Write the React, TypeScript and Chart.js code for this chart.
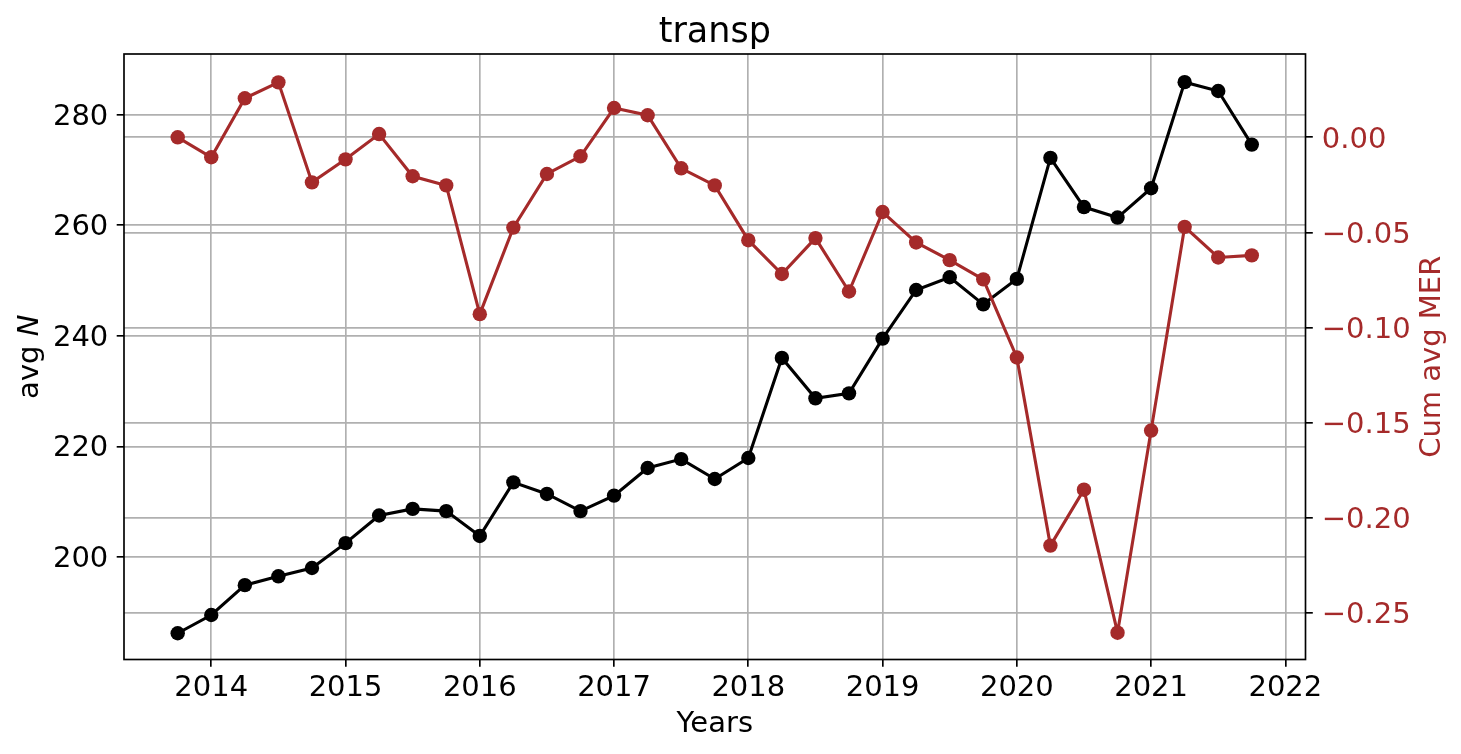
import { useEffect, useRef } from 'react';
import { Chart, registerables } from 'chart.js';

Chart.register(...registerables);

// ---- data ----
const YEARS = [
  2013.75, 2014.0, 2014.25, 2014.5, 2014.75, 2015.0, 2015.25, 2015.5, 2015.75,
  2016.0, 2016.25, 2016.5, 2016.75, 2017.0, 2017.25, 2017.5, 2017.75,
  2018.0, 2018.25, 2018.5, 2018.75, 2019.0, 2019.25, 2019.5, 2019.75,
  2020.0, 2020.25, 2020.5, 2020.75, 2021.0, 2021.25, 2021.5, 2021.75,
];
const AVG_N = [
  186.2, 189.5, 194.9, 196.5, 198.0, 202.5, 207.5, 208.7, 208.3,
  203.8, 213.5, 211.4, 208.3, 211.1, 216.1, 217.7, 214.1,
  217.9, 236.0, 228.7, 229.6, 239.5, 248.3, 250.6, 245.7,
  250.3, 272.2, 263.3, 261.4, 266.7, 285.9, 284.3, 274.6,
];
const CUM_MER = [
  0.0, -0.0105, 0.0205, 0.0289, -0.0237, -0.0116, 0.0017, -0.0205, -0.0253,
  -0.093, -0.0475, -0.0193, -0.01, 0.0154, 0.0116, -0.0163, -0.0253,
  -0.0541, -0.0719, -0.053, -0.0811, -0.0393, -0.0553, -0.0646, -0.0747,
  -0.1158, -0.2147, -0.1853, -0.2605, -0.1542, -0.0471, -0.0632, -0.0621,
];
const X_TICKS = [2014, 2015, 2016, 2017, 2018, 2019, 2020, 2021, 2022];
const N_TICKS = [200, 220, 240, 260, 280];
const MER_TICKS = [0, -0.05, -0.1, -0.15, -0.2, -0.25];

const TITLE = 'transp';
const X_LABEL = 'Years';
const Y_LABEL_MAIN = 'avg ';
const Y_LABEL_ITALIC = 'N';
const Y2_LABEL = 'Cum avg MER';

const BROWN = '#a52a2a';
const FONT = 'DejaVu Sans';
const GRID = '#b0b0b0';

export default function App() {
  const ref = useRef<HTMLCanvasElement>(null);

  useEffect(() => {
    const canvas = ref.current;
    if (!canvas) return;

    const framePlugin = {
      id: 'frame',
      afterDatasetsDraw(chart: any) {
        const { ctx, chartArea: a } = chart;
        ctx.save();
        ctx.strokeStyle = '#000';
        ctx.lineWidth = 1.67;
        ctx.strokeRect(a.left, a.top, a.right - a.left, a.bottom - a.top);
        ctx.restore();
      },
    };

    const yTitlesPlugin = {
      id: 'yTitles',
      afterDraw(chart: any) {
        const { ctx, chartArea: a } = chart;
        const cy = (a.top + a.bottom) / 2;
        const reg = `29px "${FONT}"`;
        const ita = `italic 29px "${FONT}"`;
        // left label: "avg N" with italic N
        ctx.save();
        ctx.translate(a.left - 86.5, cy);
        ctx.rotate(-Math.PI / 2);
        ctx.textBaseline = 'alphabetic';
        ctx.textAlign = 'left';
        ctx.fillStyle = '#000';
        ctx.font = reg;
        const w1 = ctx.measureText(Y_LABEL_MAIN).width;
        ctx.font = ita;
        const w2 = ctx.measureText(Y_LABEL_ITALIC).width;
        const x0 = -(w1 + w2) / 2;
        ctx.font = reg;
        ctx.fillText(Y_LABEL_MAIN, x0, 0);
        ctx.font = ita;
        ctx.fillText(Y_LABEL_ITALIC, x0 + w1, 0);
        ctx.restore();
        // right label, reading bottom to top
        ctx.save();
        ctx.translate(a.right + 134, cy);
        ctx.rotate(-Math.PI / 2);
        ctx.textBaseline = 'alphabetic';
        ctx.textAlign = 'center';
        ctx.fillStyle = BROWN;
        ctx.font = reg;
        ctx.fillText(Y2_LABEL, 0, 0);
        ctx.restore();
      },
    };

    const tickFont = { family: FONT, size: 29 };
    const gridOpts = {
      color: GRID,
      lineWidth: 1.67,
      tickColor: '#000',
      tickLength: 7.3,
      tickWidth: 1.67,
      drawTicks: true,
    };

    const chart = new Chart(canvas, {
      type: 'line',
      data: {
        datasets: [
          {
            label: 'Cum avg MER',
            data: YEARS.map((x, i) => ({ x, y: CUM_MER[i] })),
            yAxisID: 'y1',
            borderColor: BROWN,
            backgroundColor: BROWN,
            pointBackgroundColor: BROWN,
            pointBorderColor: BROWN,
            pointBorderWidth: 0,
            pointRadius: 7.2,
            borderWidth: 3.1,
            tension: 0,
            order: 0,
          },
          {
            label: 'avg N',
            data: YEARS.map((x, i) => ({ x, y: AVG_N[i] })),
            yAxisID: 'y',
            borderColor: '#000',
            backgroundColor: '#000',
            pointBackgroundColor: '#000',
            pointBorderColor: '#000',
            pointBorderWidth: 0,
            pointRadius: 7.2,
            borderWidth: 3.1,
            tension: 0,
            order: 1,
          },
        ],
      },
      options: {
        animation: false,
        responsive: false,
        events: [],
        layout: { padding: 0 },
        plugins: {
          legend: { display: false },
          tooltip: { enabled: false },
          title: {
            display: true,
            text: TITLE,
            fullSize: false,
            color: '#000',
            font: { family: FONT, size: 35, weight: 'normal', lineHeight: 1.2 },
            padding: { top: 11.5, bottom: 0.5 },
          },
        },
        scales: {
          x: {
            type: 'linear',
            min: 2013.35,
            max: 2022.15,
            afterBuildTicks: (s: any) => {
              s.ticks = X_TICKS.map((v) => ({ value: v }));
            },
            afterFit: (s: any) => {
              s.height = 94.5;
            },
            ticks: {
              callback: (v: any) => String(v),
              font: tickFont,
              color: '#000',
              padding: 4.6,
              maxRotation: 0,
              minRotation: 0,
              autoSkip: false,
            },
            grid: gridOpts,
            border: { display: false },
            title: {
              display: true,
              text: X_LABEL,
              color: '#000',
              font: { family: FONT, size: 29 },
              padding: { top: 0, bottom: 12 },
            },
          },
          y: {
            type: 'linear',
            position: 'left',
            min: 181.45,
            max: 290.99,
            afterBuildTicks: (s: any) => {
              s.ticks = N_TICKS.map((v) => ({ value: v }));
            },
            afterFit: (s: any) => {
              s.width = 124;
            },
            ticks: {
              callback: (v: any) => String(v),
              font: tickFont,
              color: '#000',
              padding: 8.4,
              labelOffset: 2.5,
              autoSkip: false,
            },
            grid: gridOpts,
            border: { display: false },
          },
          y1: {
            type: 'linear',
            position: 'right',
            min: -0.2746,
            max: 0.0438,
            afterBuildTicks: (s: any) => {
              s.ticks = MER_TICKS.map((v) => ({ value: v }));
            },
            afterFit: (s: any) => {
              s.width = 155.5;
            },
            ticks: {
              callback: (v: any) => {
                const n = Number(v);
                const t = Math.abs(n).toFixed(2);
                return n < -1e-9 ? '\u2212' + t : t;
              },
              font: tickFont,
              color: BROWN,
              padding: 9,
              labelOffset: 3,
              autoSkip: false,
            },
            grid: gridOpts,
            border: { display: false },
          },
        },
      },
      plugins: [framePlugin, yTitlesPlugin],
    } as any);

    return () => {
      chart.destroy();
    };
  }, []);

  return (
    <div style={{ position: 'fixed', left: 0, top: 0, width: 1461, height: 754, background: '#fff' }}>
      <canvas ref={ref} width={1461} height={754} style={{ display: 'block' }} />
    </div>
  );
}
